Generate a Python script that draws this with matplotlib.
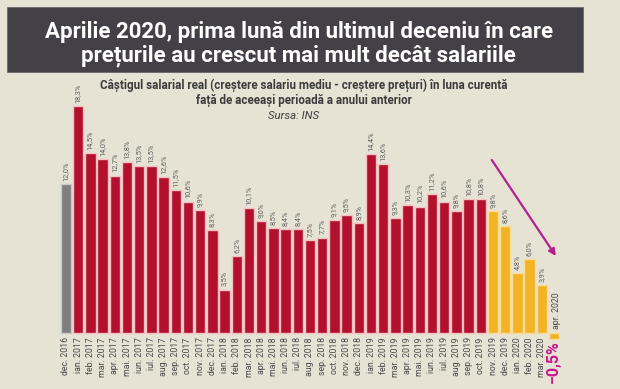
import numpy as np
import matplotlib.pyplot as plt
from matplotlib.patches import Rectangle

# data
months = ['dec. 2016',
          'ian. 2017', 'feb. 2017', 'mar. 2017', 'apr. 2017', 'mai. 2017', 'iun. 2017',
          'iul. 2017', 'aug. 2017', 'sep. 2017', 'oct. 2017', 'nov. 2017', 'dec. 2017',
          'ian. 2018', 'feb. 2018', 'mar. 2018', 'apr. 2018', 'mai. 2018', 'iun. 2018',
          'iul. 2018', 'aug. 2018', 'sep. 2018', 'oct. 2018', 'nov. 2018', 'dec. 2018',
          'ian. 2019', 'feb. 2019', 'mar. 2019', 'apr. 2019', 'mai. 2019', 'iun. 2019',
          'iul. 2019', 'aug. 2019', 'sep. 2019', 'oct. 2019', 'nov. 2019', 'dec. 2019',
          'ian. 2020', 'feb. 2020', 'mar. 2020', 'apr. 2020']
values = [12.0,
          18.3, 14.5, 14.0, 12.7, 13.8, 13.5, 13.5, 12.6, 11.5, 10.6, 9.9, 8.3,
          3.5, 6.2, 10.1, 9.0, 8.5, 8.4, 8.4, 7.5, 7.7, 9.1, 9.5, 8.9,
          14.4, 13.6, 9.3, 10.3, 10.2, 11.2, 10.6, 9.8, 10.8, 10.8, 9.8, 8.6,
          4.8, 6.0, 3.9, -0.5]
# group of each bar: 0 = reference month, 1 = before pandemic, 2 = last months
groups = [0] + [1] * 34 + [2] * 6

title = 'Aprilie 2020, prima lună din ultimul deceniu în care\nprețurile au crescut mai mult decât salariile'
subtitle = ('Câștigul salarial real (creștere salariu mediu - creștere prețuri) în luna curentă\n'
            'față de aceeași perioadă a anului anterior')
source = 'Sursa: INS'

bg = '#e6e3d4'
colors = {0: '#7d7e80', 1: '#b3102e', 2: '#f2b424'}
edges = {0: '#c9c9c9', 1: '#f4c0c0', 2: '#f7dc9a'}
txt_gray = '#5f5f5f'
magenta = '#c8178f'
font = 'Roboto'

W, H = 620, 389
fig = plt.figure(figsize=(W / 100, H / 100), dpi=100, facecolor=bg)

# axes over the whole figure, data units = bar index / percent
x0_px, pitch = 66, 12.2
base_px, unit = 333, 12.4
ax = fig.add_axes([0, 0, 1, 1])
ax.set_facecolor(bg)
ax.set_xlim(-x0_px / pitch, (W - x0_px) / pitch)
ax.set_ylim(-(H - base_px) / unit, base_px / unit)
ax.axis('off')

x = np.arange(len(values))
for i, v in enumerate(values):
    g = groups[i]
    ax.bar(x[i], v, width=0.84, color=colors[g], edgecolor=edges[g], linewidth=1.0, zorder=2)

# value labels above bars
for i, v in enumerate(values[:-1]):
    ax.text(x[i], v + 0.25, f'{v:.1f}%'.replace('.', ','), rotation=90,
            ha='center', va='bottom', fontsize=5.3, color=txt_gray, family=font)

# month labels under the bars
for i, m in enumerate(months[:-1]):
    ax.text(x[i], -0.35, m, rotation=90, ha='center', va='top',
            fontsize=6.3, color='#4a4a4a', family=font)

# last month: label above the baseline, value in magenta below
ax.text(x[-1] + 0.2, 0.3, months[-1], rotation=90, ha='center', va='bottom',
        fontsize=6.3, color='#4a4a4a', family=font)
ax.text(x[-1] - 0.05, -0.55, f'{values[-1]:.1f}%'.replace('.', ',').replace('-', '−'),
        rotation=90, ha='center', va='top', fontsize=11.5, fontweight='bold',
        color=magenta, family=font)

# trend arrow
ax.annotate('', xy=(x[-1] + 0.15, (base_px - 256) / unit),
            xytext=(x[-1] - 5.1, (base_px - 160) / unit),
            arrowprops=dict(arrowstyle='-|>', color='#b81f8c', lw=1.6,
                            mutation_scale=10, shrinkA=0, shrinkB=0))

# title box
fig.patches.append(Rectangle((7 / W, 1 - 72 / H), 576 / W, 65 / H,
                             transform=fig.transFigure, facecolor='#434047',
                             edgecolor='#6a676c', linewidth=0.6, zorder=0))
fig.text(0.482, 1 - 44 / H, title, ha='center', va='center', color='white',
         fontsize=16, fontweight='bold', linespacing=1.12, family=font)

fig.text(0.49, 1 - 93 / H, subtitle, ha='center', va='center', color='#3c3c3c',
         fontsize=8.4, fontweight='bold', linespacing=1.2, family=font)
fig.text(0.473, 1 - 116 / H, source, ha='center', va='center', color='#3c3c3c',
         fontsize=8.2, style='italic', family=font)

fig.savefig('out.png', dpi=100, facecolor=bg)
